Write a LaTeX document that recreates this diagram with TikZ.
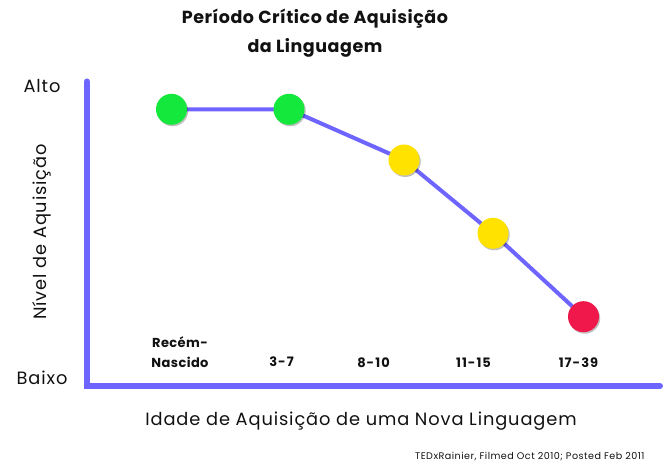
\documentclass[tikz,border=0pt]{standalone}
\usepackage{fontspec}
\setmainfont{Poppins}
\newfontfamily\axfont{Poppins}[LetterSpace=5]
\newfontfamily\tickfont{Poppins}[LetterSpace=3]
\newfontfamily\numfont{Poppins}[Numbers=Monospaced, LetterSpace=8]
\newfontfamily\titlefont{Poppins}[LetterSpace=3]
\usetikzlibrary{shadows}
\definecolor{axisblue}{HTML}{6E64FF}
\definecolor{dotgreen}{HTML}{14E83C}
\definecolor{dotyellow}{HTML}{FFE200}
\definecolor{dotred}{HTML}{F0174B}
\definecolor{txt}{HTML}{111111}
\tikzset{
  axisline/.style={line width=6pt, axisblue, line cap=round},
  dataline/.style={line width=4pt, axisblue},
  dot/.style={circle, minimum size=31pt, inner sep=0pt, fill=#1,
    drop shadow={shadow xshift=1.2pt, shadow yshift=-1.5pt, opacity=0.25, fill=black}},
  ticklab/.style={font=\tickfont\bfseries\fontsize{13}{19.5}\selectfont, text=txt, align=center},
  numlab/.style={font=\numfont\bfseries\fontsize{13}{19.5}\selectfont, text=txt},
  axlab/.style={font=\axfont\fontsize{17.8}{20}\selectfont, text=txt},
}
\begin{document}
\begin{tikzpicture}[x=1pt,y=1pt]
\useasboundingbox (0,0) rectangle (664,465);
\node[font=\titlefont\bfseries\fontsize{17.5}{29}\selectfont, text=txt, align=center] (title) at (315,432) {Período Crítico de Aquisição\\da Linguagem};
% axes
\coordinate (top) at (87,383.5);
\coordinate (orig) at (87,79);
\coordinate (right) at (660,79);
\draw[axisline] (top) -- (orig) -- (right);
% axis labels
\node[axlab] (alto) at (42,379) {Alto};
\node[axlab] (baixo) at (42,87) {Baixo};
\node[axlab, rotate=90] (ylab) at (42,233) {Nível de Aquisição};
\node[axlab] (xlab) at (361,44) {Idade de Aquisição de uma Nova Linguagem};
\node[font=\axfont\fontsize{9.6}{11}\selectfont, text=txt, anchor=east] (credit) at (648,8) {TEDxRainier, Filmed Oct 2010; Posted Feb 2011};
% tick labels
\node[ticklab] (t1) at (180,113) {Recém-\\Nascido};
\node[numlab] (t2) at (281.5,103) {3-7};
\node[numlab] (t3) at (373.5,102) {8-10};
\node[numlab] (t4) at (473.5,102) {11-15};
\node[numlab] (t5) at (578.5,102) {17-39};
% data
\coordinate (p1) at (171.5,355.7);
\coordinate (p2) at (289,355.7);
\coordinate (p3) at (404,305);
\coordinate (p4) at (493,231.7);
\coordinate (p5) at (583.5,148.3);
\draw[dataline] (p1) -- (p2) -- (p3) -- (p4) -- (p5);
\node[dot=dotgreen] (d1) at (p1) {};
\node[dot=dotgreen] (d2) at (p2) {};
\node[dot=dotyellow] (d3) at (p3) {};
\node[dot=dotyellow] (d4) at (p4) {};
\node[dot=dotred] (d5) at (p5) {};
\end{tikzpicture}
\end{document}
